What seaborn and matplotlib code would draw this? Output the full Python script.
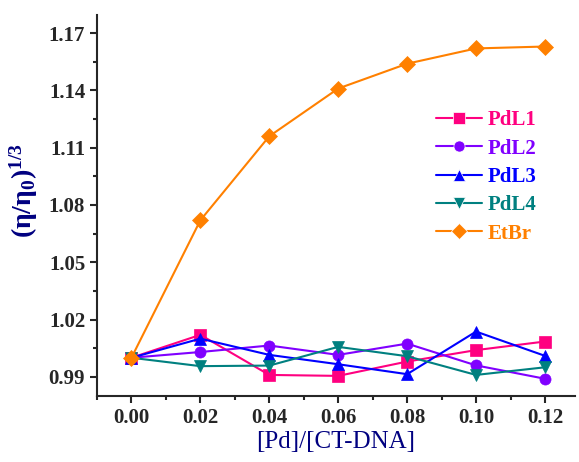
import pandas as pd
import numpy as np
import matplotlib.pyplot as plt
import seaborn as sns
from matplotlib.ticker import MultipleLocator

sns.set_style("ticks")
plt.rcParams["font.family"] = ["Liberation Serif", "DejaVu Serif"]
plt.rcParams["mathtext.fontset"] = "custom"
plt.rcParams["mathtext.rm"] = "Liberation Serif"
plt.rcParams["mathtext.bf"] = "Liberation Serif:bold"
plt.rcParams["mathtext.it"] = "Liberation Serif:italic"

# Datos
ratio = [0.00, 0.02, 0.04, 0.06, 0.08, 0.10, 0.12]
pdl1 = [1.000, 1.012, 0.991, 0.9905, 0.998, 1.004, 1.0085]
pdl2 = [1.000, 1.003, 1.0064, 1.0015, 1.0074, 0.996, 0.989]
pdl3 = [1.000, 1.010, 1.0015, 0.9966, 0.9914, 1.0137, 1.001]
pdl4 = [1.000, 0.9956, 0.9959, 1.0057, 1.0008, 0.991, 0.995]
etbr = [1.000, 1.072, 1.116, 1.141, 1.154, 1.162, 1.163]

series_names = ["PdL1", "PdL2", "PdL3", "PdL4", "EtBr"]
series_values = [pdl1, pdl2, pdl3, pdl4, etbr]
colors = ["#FF0080", "#8000FF", "#0000FF", "#008080", "#FF8000"]
markers = ["s", "o", "^", "v", "D"]

df = pd.DataFrame({
    "ratio": np.tile(ratio, len(series_names)),
    "value": np.concatenate(series_values),
    "compound": np.repeat(series_names, len(ratio)),
})

fig = plt.figure(figsize=(5.79, 4.62), dpi=100)
ax = fig.add_axes([0.1675, 0.143, 0.8255, 0.8245])

sns.lineplot(
    data=df, x="ratio", y="value", hue="compound", style="compound",
    hue_order=series_names, style_order=series_names,
    palette=colors, markers=markers, dashes=False,
    markersize=8, linewidth=1.5, markeredgewidth=0.5, ax=ax,
)
for line, c in zip(ax.get_lines(), colors):
    line.set_markeredgecolor(c)

ax.set_xlim(-0.01, 0.1287)
ax.set_ylim(0.98, 1.1795)
ax.set_xticks(ratio)
ax.set_yticks([0.99, 1.02, 1.05, 1.08, 1.11, 1.14, 1.17])
ax.xaxis.set_minor_locator(MultipleLocator(0.01))
ax.yaxis.set_minor_locator(MultipleLocator(0.015))
ax.set_xticklabels([f"{v:.2f}" for v in ratio], fontsize=15, fontweight="bold")
ax.set_yticklabels([f"{v:.2f}" for v in ax.get_yticks()], fontsize=15, fontweight="bold")
ax.tick_params(axis="both", which="major", length=5, width=1.5, direction="out")
ax.tick_params(axis="both", which="minor", length=3, width=1.5, direction="out")
sns.despine(ax=ax)
for sp in ["left", "bottom"]:
    ax.spines[sp].set_linewidth(1.5)

ax.set_xlabel("[Pd]/[CT-DNA]", fontsize=18, color="#000080", labelpad=2)
ax.set_ylabel(r"$\mathbf{(\eta/\eta_0)^{1/3}}$", fontsize=20, color="#000080")
ax.yaxis.set_label_coords(-0.12, 0.54)

leg = ax.legend(loc="upper left", bbox_to_anchor=(0.709, 0.75), frameon=False,
                fontsize=15, handlelength=2.2, labelspacing=0.4, handletextpad=0.3,
                borderaxespad=0, borderpad=0)
for text, c in zip(leg.get_texts(), colors):
    text.set_color(c)
    text.set_fontweight("bold")

fig.savefig("out.png", dpi=100)
